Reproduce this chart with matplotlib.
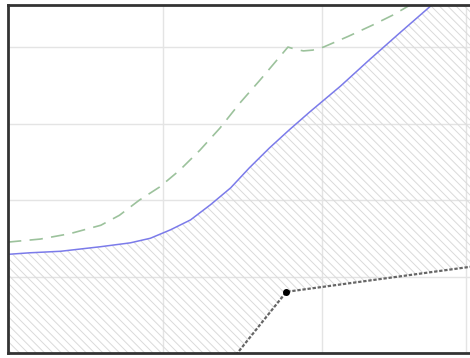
import matplotlib
matplotlib.use("Agg")
import matplotlib.pyplot as plt
import numpy as np

# values (x in grid units, y in grid units)
blue_x = [0, 0.14, 0.34, 0.6, 0.79, 0.92, 1.05, 1.18, 1.31, 1.44, 1.56, 1.69, 1.82, 1.95, 2.15, 2.34, 2.53, 2.74, 2.99]
blue_y = [1.29, 1.31, 1.33, 1.39, 1.44, 1.50, 1.61, 1.74, 1.94, 2.16, 2.42, 2.68, 2.92, 3.15, 3.49, 3.84, 4.18, 4.55, 5.0]

green_x = [0, 0.21, 0.4, 0.6, 0.72, 0.85, 0.98, 1.11, 1.24, 1.37, 1.5, 1.63, 1.81, 1.86, 1.91, 1.97, 2.04, 2.2, 2.36, 2.49, 2.6, 2.79]
green_y = [1.45, 1.49, 1.56, 1.67, 1.80, 2.0, 2.17, 2.39, 2.65, 2.94, 3.27, 3.57, 4.0, 3.97, 3.95, 3.96, 4.0, 4.14, 4.29, 4.42, 4.55, 4.81]

black_x = [0, 1.80, 3.0]
black_y = [-3.75, 0.80, 1.13]

x_grid = [1.0, 2.03, 2.96]
y_grid = [1, 2, 3, 4]

fig = plt.figure(figsize = (4.7, 3.58), dpi = 100)
# axes runs off the right edge of the picture, so no right spine shows
ax = fig.add_axes([8 / 470, 5 / 358, 464 / 470, 348 / 358])

# hatched band between the black line and the blue line
plt.rcParams['hatch.color'] = '#dadada'
plt.rcParams['hatch.linewidth'] = 0.7
fill_x = np.array(blue_x)
ax.fill_between(fill_x, np.interp(fill_x, black_x, black_y), blue_y,
                facecolor = 'none', edgecolor = '#dadada', hatch = '\\\\\\\\', linewidth = 0)

ax.plot(green_x, green_y, color = '#9cc29c', linewidth = 1.2, dashes = (8, 5))
ax.plot(blue_x, blue_y, color = '#7b7bea', linewidth = 1.1)
ax.plot(black_x, black_y, color = '#666666', linewidth = 1.6, dashes = (1.5, 0.8),
        marker = 'o', markersize = 4, markerfacecolor = 'black', markeredgecolor = 'black', markevery = [1])

ax.set_xlim(0, 3.0)
ax.set_ylim(0, 4.55)
ax.set_xticks(x_grid)
ax.set_yticks(y_grid)
ax.grid(True, color = '#e4e4e4', linewidth = 1)
ax.set_axisbelow(True)
ax.tick_params(length = 0, labelbottom = False, labelleft = False)

for side in ['left', 'top', 'bottom']:
    ax.spines[side].set_color('#333333')
    ax.spines[side].set_linewidth(2)
ax.spines['right'].set_visible(False)

fig.savefig("out.png", dpi = 100)
